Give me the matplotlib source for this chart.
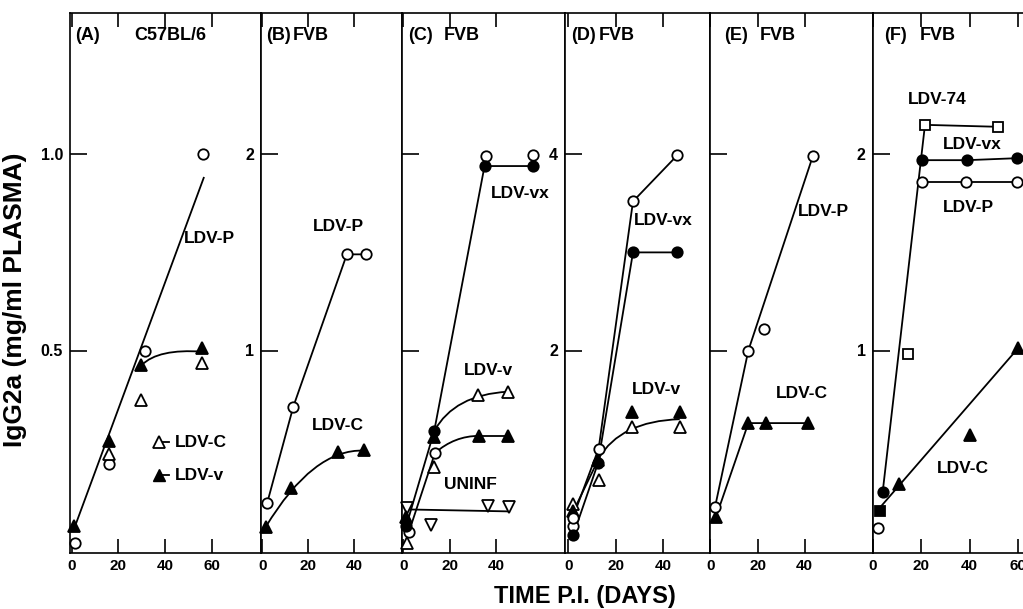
import matplotlib
matplotlib.use('Agg')
import matplotlib.pyplot as plt
from matplotlib.path import Path
from matplotlib.patches import PathPatch

plt.rcParams['font.family'] = ['Liberation Sans', 'DejaVu Sans']
plt.rcParams['font.weight'] = 'bold'

# ---------------- data ----------------
# (A) C57BL/6, mg/ml
a_p_day = [1.4, 16, 31.4, 56]
a_p_val = [0.01, 0.21, 0.50, 1.00]
a_c_day = [16, 29.7, 55.7]
a_c_val = [0.235, 0.375, 0.468]
a_v_day = [1, 16, 29.7, 55.7]
a_v_val = [0.053, 0.269, 0.464, 0.506]
a_fit_day = [1, 56.5]
a_fit_val = [0.045, 0.94]
a_curve_day = [30, 37, 56]          # start, control, end
a_curve_val = [0.463, 0.505, 0.497]

# (B) FVB
b_p_day = [2.2, 13.5, 36.7, 44.8]
b_p_val = [0.224, 0.714, 1.49, 1.49]
b_c_day = [1.5, 12.6, 33, 44.2]
b_c_val = [0.103, 0.297, 0.483, 0.491]
b_curve_day = [1.5, 22, 44.2]
b_curve_val = [0.10, 0.50, 0.49]

# (C) FVB
c_xf_day = [1.2, 13.3, 35, 56]
c_xf_val = [0.21, 1.18, 3.88, 3.88]
c_xo_day = [2.3, 13.6, 35.5, 56]
c_xo_val = [0.145, 0.955, 3.98, 3.99]
c_vo_day = [1.6, 13.2, 32, 45]
c_vo_val = [0.04, 0.81, 1.545, 1.58]
c_vf_day = [1.2, 13, 32.7, 45]
c_vf_val = [0.30, 1.12, 1.13, 1.13]
c_un_day = [1.6, 11.7, 36.4, 45.5]
c_un_val = [0.39, 0.22, 0.415, 0.40]
c_un_fit_day = [1.6, 45.5]
c_un_fit_val = [0.38, 0.36]
c_low_curve_day = [13.6, 22, 32.7]
c_low_curve_val = [0.955, 1.13, 1.13]
c_up_curve_day = [13.3, 22, 45]
c_up_curve_val = [1.18, 1.55, 1.58]

# (D) FVB
d_xo_day = [1.8, 12.8, 27.3, 46]
d_xo_val = [0.29, 1.0, 3.52, 3.99]
d_xo2_day = [1.8]
d_xo2_val = [0.21]
d_xf_day = [2.1, 12.5, 27.3, 46]
d_xf_val = [0.12, 0.85, 3.0, 3.0]
d_vf_day = [2.1, 12.5, 27, 47.1]
d_vf_val = [0.36, 0.88, 1.37, 1.37]
d_vo_day = [2.1, 13, 27, 47]
d_vo_val = [0.44, 0.68, 1.22, 1.22]
d_curve_day = [12.8, 22, 47]
d_curve_val = [0.90, 1.28, 1.30]

# (E) FVB
e_p_day = [1.9, 16.1, 22.8, 43.5]
e_p_val = [0.20, 1.0, 1.11, 1.99]
e_p_line_day = [1.9, 16.1, 43.5]
e_p_line_val = [0.20, 1.0, 1.99]
e_c_day = [2.3, 16.1, 23.5, 41.6]
e_c_val = [0.15, 0.63, 0.63, 0.63]

# (F) FVB
f_74_day = [14.7, 21.6, 51.8]
f_74_val = [0.98, 2.15, 2.14]
f_74_first_day = [3.1]
f_74_first_val = [0.18]
f_xf_day = [4.2, 20.2, 39, 59.3]
f_xf_val = [0.28, 1.97, 1.97, 1.98]
f_p_day = [2.2, 20.2, 38.5, 59.3]
f_p_val = [0.095, 1.86, 1.86, 1.86]
f_c_day = [10.8, 40.1, 59.8]
f_c_val = [0.32, 0.567, 1.014]
f_rise_day = [4.2, 21.6]
f_rise_val = [0.28, 2.15]
f_c_fit_day = [3.1, 59.8]
f_c_fit_val = [0.20, 1.01]

# ---------------- figure ----------------
W, H = 1023, 609
fig = plt.figure(figsize=(W / 100, H / 100), dpi=100)

TOP, BOT = 13, 553
LW = 1.3


def panel(x0, x1, xlim, k, xticks, ylabels):
    ax = fig.add_axes([x0 / W, 1 - BOT / H, (x1 - x0) / W, (BOT - TOP) / H])
    ax.set_xlim(*xlim)
    ax.set_ylim(-0.016 * k, 1.36 * k)
    ax.set_xticks(xticks)
    ax.set_xticklabels([str(t) for t in xticks], fontsize=11, fontweight='bold')
    ax.set_yticks([k / 2, k])
    if ylabels:
        ax.set_yticklabels(ylabels, fontsize=11.5, fontweight='bold')
    else:
        ax.set_yticklabels([])
    ax.tick_params(axis='x', direction='in', length=10, width=1.2, top=True, pad=4)
    ax.tick_params(axis='y', direction='in', length=12, width=1.2, pad=5)
    for s in ax.spines.values():
        s.set_linewidth(1.2)
    return ax


def line(ax, d, v):
    ax.plot(d, v, color='k', lw=LW, zorder=2)


def curve(ax, d, v):
    path = Path(list(zip(d, v)), [Path.MOVETO, Path.CURVE3, Path.CURVE3])
    ax.add_patch(PathPatch(path, fill=False, lw=LW, ec='k', zorder=2))


def marks(ax, d, v, m, filled, ms=8):
    ax.plot(d, v, ls='none', marker=m, ms=ms, mfc='k' if filled else 'white',
            mec='k', mew=1.3, zorder=3, clip_on=False)


def label(ax, x, y, s):
    ax.text(x, y, s, ha='center', va='center', fontsize=12.5, fontweight='bold')


# (A)
axA = panel(70, 261, (-0.7, 81), 1, [0, 20, 40, 60], ['0.5', '1.0'])
line(axA, a_fit_day, a_fit_val)
curve(axA, a_curve_day, a_curve_val)
marks(axA, a_p_day, a_p_val, 'o', False, 7.5)
marks(axA, a_c_day, a_c_val, '^', False)
marks(axA, a_v_day, a_v_val, '^', True)
label(axA, 59, 0.786, 'LDV-P')
axA.plot([37.2, 41.5], [0.266, 0.266], color='k', lw=LW, marker='^', ms=8,
         mfc='white', mec='k', mew=1.3, markevery=[0])
axA.plot([37.2, 41.5], [0.182, 0.182], color='k', lw=LW, marker='^', ms=8,
         mfc='k', mec='k', markevery=[0])
axA.text(44, 0.266, 'LDV-C', ha='left', va='center', fontsize=12.5, fontweight='bold')
axA.text(44, 0.182, 'LDV-v', ha='left', va='center', fontsize=12.5, fontweight='bold')

# (B)
axB = panel(261, 402, (-0.5, 60.6), 2, [0, 20, 40], ['1', '2'])
line(axB, b_p_day, b_p_val)
curve(axB, b_curve_day, b_curve_val)
marks(axB, b_p_day, b_p_val, 'o', False, 7.5)
marks(axB, b_c_day, b_c_val, '^', True)
label(axB, 33, 1.63, 'LDV-P')
label(axB, 33, 0.62, 'LDV-C')

# (C)
axC = panel(402, 565, (-0.6, 69.7), 4, [0, 20, 40], None)
line(axC, c_xf_day, c_xf_val)
line(axC, c_xo_day[:2], c_xo_val[:2])
curve(axC, c_low_curve_day, c_low_curve_val)
line(axC, c_vf_day[2:], c_vf_val[2:])
curve(axC, c_up_curve_day, c_up_curve_val)
line(axC, c_un_fit_day, c_un_fit_val)
marks(axC, c_un_day, c_un_val, 'v', False)
marks(axC, c_vo_day, c_vo_val, '^', False)
marks(axC, c_vf_day, c_vf_val, '^', True)
marks(axC, c_xo_day, c_xo_val, 'o', False, 7.5)
marks(axC, c_xf_day, c_xf_val, 'o', True, 7.5)
label(axC, 50.5, 3.6, 'LDV-vx')
label(axC, 36.7, 1.8, 'LDV-v')
label(axC, 29, 0.63, 'UNINF')

# (D)
axD = panel(565, 710, (-1.4, 59.8), 4, [0, 20, 40], ['2', '4'])
line(axD, d_xo_day, d_xo_val)
line(axD, d_xf_day, d_xf_val)
line(axD, d_vf_day[:2], d_vf_val[:2])
curve(axD, d_curve_day, d_curve_val)
marks(axD, d_vo_day, d_vo_val, '^', False)
marks(axD, d_vf_day, d_vf_val, '^', True)
marks(axD, d_xo2_day, d_xo2_val, 'o', False, 7.5)
marks(axD, d_xo_day, d_xo_val, 'o', False, 7.5)
marks(axD, d_xf_day, d_xf_val, 'o', True, 7.5)
label(axD, 40, 3.32, 'LDV-vx')
label(axD, 37, 1.6, 'LDV-v')

# (E)
axE = panel(710, 873, (-0.2, 69.1), 2, [0, 20, 40], None)
line(axE, e_p_line_day, e_p_line_val)
line(axE, e_c_day, e_c_val)
marks(axE, e_c_day, e_c_val, '^', True)
marks(axE, e_p_day, e_p_val, 'o', False, 7.5)
label(axE, 48, 1.71, 'LDV-P')
label(axE, 39, 0.78, 'LDV-C')

# (F) - right edge falls outside the picture
axF = panel(872.5, 1036, (0, 67.3), 2, [0, 20, 40, 60], ['1', '2'])
line(axF, f_rise_day, f_rise_val)
line(axF, f_74_day[1:], f_74_val[1:])
line(axF, f_xf_day[1:], f_xf_val[1:])
line(axF, f_p_day[1:], f_p_val[1:])
line(axF, f_c_fit_day, f_c_fit_val)
marks(axF, f_74_day, f_74_val, 's', False, 7)
marks(axF, f_74_first_day, f_74_first_val, 's', True, 7)
marks(axF, f_p_day, f_p_val, 'o', False, 7.5)
marks(axF, f_xf_day, f_xf_val, 'o', True, 7.5)
marks(axF, f_c_day, f_c_val, '^', True)
label(axF, 26.5, 2.28, 'LDV-74')
label(axF, 41, 2.05, 'LDV-vx')
label(axF, 39.5, 1.73, 'LDV-P')
label(axF, 37.4, 0.40, 'LDV-C')

# panel titles (pixel positions of the left edges)
titles = [(75, '(A)'), (134, 'C57BL/6'), (266, '(B)'), (293, 'FVB'),
          (408, '(C)'), (444, 'FVB'), (571, '(D)'), (599, 'FVB'),
          (724, '(E)'), (760, 'FVB'), (884, '(F)'), (920, 'FVB')]
for x, s in titles:
    fig.text(x / W, 1 - 35 / H, s, ha='left', va='center', fontsize=13, fontweight='bold')

fig.text(15 / W, 1 - 300 / H, 'IgG2a (mg/ml PLASMA)', rotation=90, ha='center',
         va='center', fontsize=19, fontweight='bold')
fig.text(585 / W, 1 - 597 / H, 'TIME P.I. (DAYS)', ha='center', va='center',
         fontsize=17, fontweight='bold')

fig.savefig('out.png', dpi=100)
